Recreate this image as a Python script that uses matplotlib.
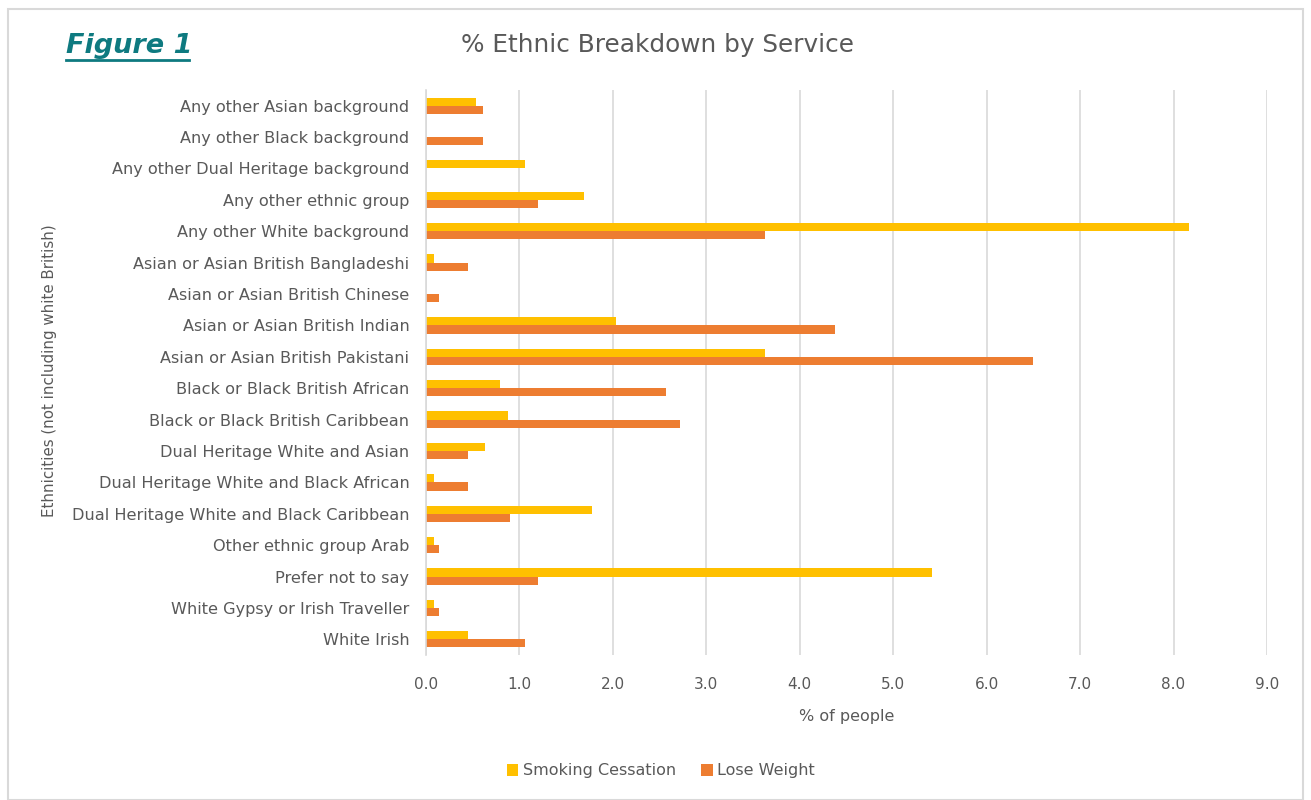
import numpy as np
import matplotlib.pyplot as plt
from matplotlib.patches import Rectangle

categories = [
    'Any other Asian background',
    'Any other Black background',
    'Any other Dual Heritage background',
    'Any other ethnic group',
    'Any other White background',
    'Asian or Asian British Bangladeshi',
    'Asian or Asian British Chinese',
    'Asian or Asian British Indian',
    'Asian or Asian British Pakistani',
    'Black or Black British African',
    'Black or Black British Caribbean',
    'Dual Heritage White and Asian',
    'Dual Heritage White and Black African',
    'Dual Heritage White and Black Caribbean',
    'Other ethnic group Arab',
    'Prefer not to say',
    'White Gypsy or Irish Traveller',
    'White Irish',
]
smoking = [0.54, 0.0, 1.06, 1.69, 8.16, 0.09, 0.0, 2.03, 3.63, 0.79,
           0.88, 0.63, 0.09, 1.78, 0.09, 5.41, 0.09, 0.45]
lose_weight = [0.61, 0.61, 0.0, 1.20, 3.63, 0.45, 0.14, 4.38, 6.50, 2.57,
               2.72, 0.45, 0.45, 0.90, 0.14, 1.20, 0.14, 1.06]
xticks = np.arange(0, 9.5, 1.0)

text_col = '#595959'
plt.rcParams['font.family'] = ['DejaVu Sans']

fig = plt.figure(figsize=(13.11, 8), dpi=100)
ax = fig.add_axes([426 / 1311, 1 - 655 / 800, (1267 - 426) / 1311, (655 - 90) / 800])

y = np.arange(len(categories))
h = 0.26
ax.barh(y - h / 2, smoking, height=h, color='#FFC000', label='Smoking Cessation')
ax.barh(y + h / 2, lose_weight, height=h, color='#ED7D31', label='Lose Weight')

ax.set_ylim(len(categories) - 0.5, -0.5)
ax.set_xlim(0, 9)
ax.set_xticks(xticks)
ax.set_xticklabels([f'{v:.1f}' for v in xticks], color=text_col, fontsize=11)
ax.set_yticks(y)
ax.set_yticklabels(categories, color=text_col, fontsize=11.6)
ax.tick_params(length=0)
ax.tick_params(axis='y', pad=12)
ax.tick_params(axis='x', pad=16)
ax.grid(axis='x', color='#d9d9d9', linewidth=1.2)
ax.set_axisbelow(True)
for s in ['top', 'right', 'bottom']:
    ax.spines[s].set_visible(False)
ax.spines['left'].set_color('#d9d9d9')
ax.spines['left'].set_linewidth(1.2)

ax.set_xlabel('% of people', color=text_col, fontsize=11.5, labelpad=12)
fig.text(50 / 1311, 1 - 371 / 800, 'Ethnicities (not including white British)',
         rotation=90, ha='center', va='center', color=text_col, fontsize=10.8)

fig.text(657 / 1311, 1 - 45 / 800, '% Ethnic Breakdown by Service',
         ha='center', va='center', color=text_col, fontsize=17.8)
fig.text(66 / 1311, 1 - 46 / 800, 'Figure 1', ha='left', va='center',
         color='#0e7a80', fontsize=19.5, fontweight='heavy', fontstyle='italic')
fig.add_artist(plt.Line2D([66 / 1311, 189 / 1311], [1 - 60 / 800, 1 - 60 / 800],
                          color='#0e7a80', linewidth=2))

fig.legend(loc='center', bbox_to_anchor=(661 / 1311, 1 - 771 / 800), ncol=2,
           frameon=False, fontsize=11.5, handlelength=0.7, handleheight=0.7,
           handletextpad=0.3, columnspacing=1.6, labelcolor=text_col)

fig.add_artist(Rectangle((8 / 1311, 0), 1295 / 1311, 1 - 9 / 800, transform=fig.transFigure,
                         fill=False, edgecolor='#d9d9d9', linewidth=1.5))

fig.savefig('out.png', dpi=100)
